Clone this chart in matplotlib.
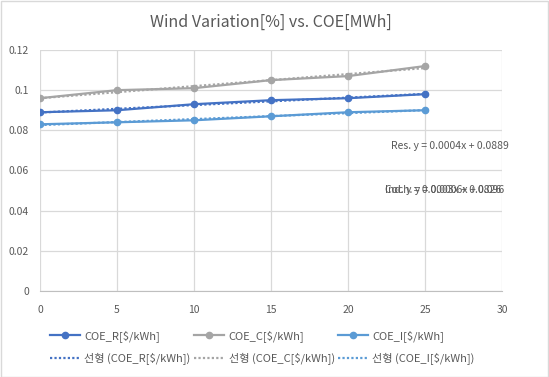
import matplotlib.pyplot as plt
import numpy as np
from matplotlib.patches import Rectangle
from matplotlib.ticker import FuncFormatter

plt.rcParams['font.family'] = ['Noto Sans CJK KR', 'DejaVu Sans']

# wind variation [%]
wind = [0, 5, 10, 15, 20, 25]

# COE values [$/kWh]
coe_r = [0.089, 0.090, 0.093, 0.095, 0.096, 0.098]
coe_c = [0.096, 0.100, 0.101, 0.105, 0.107, 0.112]
coe_i = [0.083, 0.084, 0.085, 0.087, 0.089, 0.090]

series_names = ['COE_R[$/kWh]', 'COE_C[$/kWh]', 'COE_I[$/kWh]']
trend_prefix = '선형'
eq_labels = ['Res. y = 0.0004x + 0.0889',
             'Coch. y = 0.0006x + 0.096',
             'Ind. y = 0.0003x + 0.0826']

colors = ['#4472C4', '#A5A5A5', '#5B9BD5']
text_col = '#595959'

fig = plt.figure(figsize=(5.49, 3.77), dpi=100)
ax = fig.add_axes([0.0729, 0.2281, 0.8415, 0.6393])

# chart border
fig.patches.append(Rectangle((0.001, 0.001), 0.997, 0.996, transform=fig.transFigure,
                             fill=False, edgecolor='#D9D9D9', linewidth=1))

x = np.array(wind)
handles = []
for vals, name, col in zip([coe_r, coe_c, coe_i], series_names, colors):
    h, = ax.plot(x, vals, color=col, linewidth=1.6, marker='o', markersize=4.5,
                 label=name, zorder=3)
    k, b = np.polyfit(x, vals, 1)
    t, = ax.plot(x, k * x + b, color=col, linewidth=1.6, linestyle=(0, (1, 1)),
                 label=f'{trend_prefix} ({name})', zorder=4)
    handles += [h, t]

ax.set_xlim(0, 30)
ax.set_ylim(0, 0.12)
ax.set_xticks(np.arange(0, 31, 5))
ax.set_yticks(np.arange(0, 0.121, 0.02))
ax.yaxis.set_major_formatter(FuncFormatter(lambda v, p: f'{v:g}'))
ax.grid(True, color='#D9D9D9', linewidth=0.9)
ax.set_axisbelow(True)
for s in ['top', 'right', 'left']:
    ax.spines[s].set_visible(False)
ax.spines['bottom'].set_color('#BFBFBF')
ax.tick_params(length=0, labelsize=7.5, labelcolor=text_col)
ax.tick_params(axis='x', pad=10)
ax.tick_params(axis='y', pad=8)

ax.set_title('Wind Variation[%] vs. COE[MWh]', fontsize=11.5, color=text_col, pad=17)

# trendline equations (the two lower ones overlap, like in the original)
fig.text(391 / 549, 1 - 149 / 377, eq_labels[0], fontsize=7.5, color=text_col)
fig.text(385 / 549, 1 - 193 / 377, eq_labels[1], fontsize=7.5, color=text_col)
fig.text(385 / 549, 1 - 193 / 377, eq_labels[2], fontsize=7.5, color=text_col)

fig.legend(handles=handles, ncol=3, loc='lower center', bbox_to_anchor=(0.478, 0.005),
           frameon=False, fontsize=8, labelcolor=text_col, handlelength=2.7,
           columnspacing=0.3, handletextpad=0.4, labelspacing=1.0)

fig.savefig('out.png', dpi=100)
